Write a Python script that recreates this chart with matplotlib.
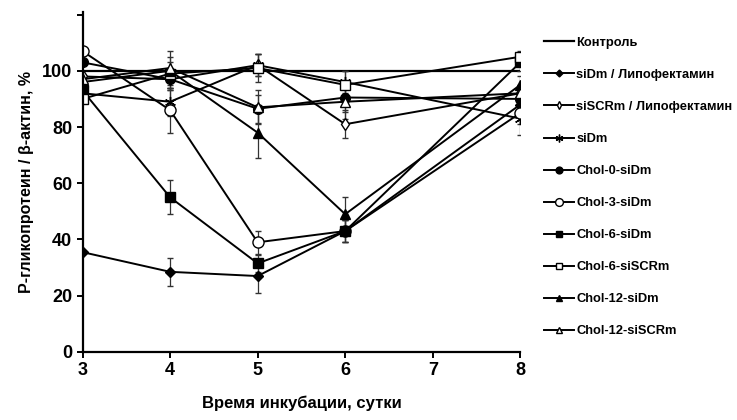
import numpy as np
import matplotlib
matplotlib.use('Agg')
from matplotlib import pyplot as plt

plt.rcParams['font.family'] = ['Liberation Sans', 'DejaVu Sans']
plt.rcParams['font.weight'] = 'bold'

# дни инкубации
days = [3, 4, 5, 6, 8]

labels = ['Контроль', 'siDm / Липофектамин', 'siSCRm / Липофектамин', 'siDm',
          'Chol-0-siDm', 'Chol-3-siDm', 'Chol-6-siDm', 'Chol-6-siSCRm',
          'Chol-12-siDm', 'Chol-12-siSCRm']

control = [100, 100, 100, 100, 100]
sidm_lipo = [35.5, 28.5, 27, 43, 88]
siscrm_lipo = [98, 97, 102, 81, 92]
sidm = [92, 89, 102, 96, 83]
chol0_sidm = [103, 97, 86.5, 90.5, 90]
chol3_sidm = [107, 86, 39, 43, 85]
chol6_sidm = [93, 55, 31.5, 43, 103]
chol6_siscrm = [90, 99, 101, 95, 105]
chol12_sidm = [96, 100, 78, 49, 95]
chol12_siscrm = [97, 101, 87, 89, 92]

# погрешности
err_sidm_lipo = [0, 5, 6, 4, 3]
err_siscrm_lipo = [0, 3, 4, 5, 3]
err_sidm = [0, 5, 4, 4, 6]
err_chol0 = [0, 4, 5, 5, 3]
err_chol3 = [0, 8, 4, 4, 4]
err_chol6 = [0, 6, 3, 4, 3]
err_chol6_scr = [0, 4, 5, 5, 2]
err_chol12 = [0, 7, 9, 6, 3]
err_chol12_scr = [0, 4, 6, 6, 3]

series = [sidm_lipo, siscrm_lipo, sidm, chol0_sidm, chol3_sidm, chol6_sidm,
          chol6_siscrm, chol12_sidm, chol12_siscrm]
errors = [err_sidm_lipo, err_siscrm_lipo, err_sidm, err_chol0, err_chol3,
          err_chol6, err_chol6_scr, err_chol12, err_chol12_scr]
markers = ['D', 'd', (6, 2, 0), 'o', 'o', 's', 's', '^', '^']
filled = [True, False, True, True, False, True, False, True, False]
msizes = [5, 6, 8, 7, 8, 7, 7, 7, 7]

fig = plt.figure(figsize=(7.37, 4.2), dpi=100)
ax = fig.add_axes([0.112, 0.162, 0.594, 0.81])

ax.plot(days, control, color='black', lw=1.6, label=labels[0])
for i in range(len(series)):
    ax.errorbar(days, series[i], yerr=errors[i], color='black', lw=1.4,
                marker=markers[i], ms=msizes[i], mec='black', mew=1,
                mfc='black' if filled[i] else 'white',
                ecolor='#333333', elinewidth=0.9, capsize=2.5,
                label=labels[i + 1])

ax.set_xlim(3, 8)
ax.set_ylim(0, 121)
ax.set_xticks([3, 4, 5, 6, 7, 8])
ax.set_yticks([0, 20, 40, 60, 80, 100, 120])
ax.set_yticklabels(['0', '20', '40', '60', '80', '100', ''])
ax.tick_params(labelsize=13, width=1.4, length=4, direction='out')
for lab in ax.get_xticklabels() + ax.get_yticklabels():
    lab.set_fontweight('bold')
ax.spines['top'].set_visible(False)
ax.spines['right'].set_visible(False)
ax.spines['left'].set_linewidth(1.6)
ax.spines['bottom'].set_linewidth(1.6)
for s in ax.spines.values():
    s.set_clip_on(False)

ax.set_xlabel('Время инкубации, сутки', fontsize=12, fontweight='bold', labelpad=12)
ax.set_ylabel('P-гликопротеин / β-актин, %', fontsize=11.5, fontweight='bold', labelpad=6)

h, l = ax.get_legend_handles_labels()
h = [hh if isinstance(hh, plt.Line2D) else hh[0] for hh in h]
fig.legend(h, l, loc='upper left', bbox_to_anchor=(0.723, 0.94), frameon=False,
           prop={'size': 9.3, 'weight': 'bold'}, labelspacing=1.55, handlelength=2.3,
           handletextpad=0.15, markerscale=0.7)

fig.savefig('out.png', dpi=100)
